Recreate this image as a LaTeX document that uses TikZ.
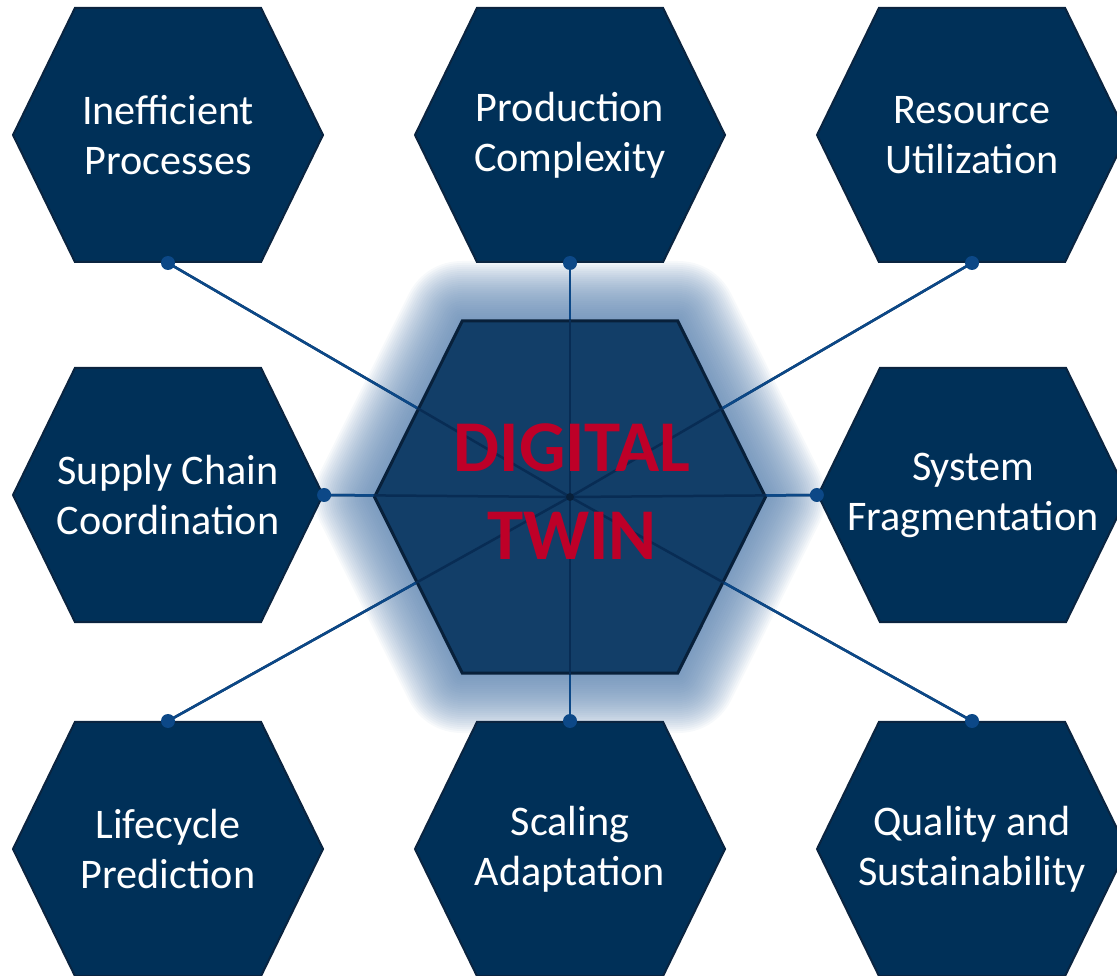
\documentclass[tikz,border=0pt]{standalone}
\usepackage{fontspec}
\setmainfont{Carlito}
\usetikzlibrary{shapes.symbols,positioning}

\definecolor{hexfill}{RGB}{0,48,88}
\definecolor{hexline}{RGB}{10,36,64}
\definecolor{twinfill}{RGB}{18,62,104}
\definecolor{twinline}{RGB}{8,32,58}
\definecolor{glowc}{RGB}{90,130,175}
\definecolor{linkc}{RGB}{12,72,135}
\definecolor{linkin}{RGB}{8,44,84}
\definecolor{twinred}{RGB}{190,0,40}

\tikzset{
  hextext/.style={text=white,align=center,inner sep=0pt,
    font=\fontsize{24}{28.5}\selectfont},
  hexbox/.style={signal,signal to=west and east,signal pointer angle=128,
    minimum width=62mm,minimum height=50.8mm,inner sep=0pt,
    fill=hexfill,draw=hexline,line width=0.4mm,
    label={[hextext]center:#1}},
  twinhex/.style={signal,signal to=west and east,signal pointer angle=127,
    minimum width=78.2mm,minimum height=70.4mm,inner sep=0pt},
  link/.style={draw=linkc,line width=0.5mm},
  linkinner/.style={draw=linkin,line width=0.5mm},
}

\begin{document}
\begin{tikzpicture}[x=0.2mm,y=-0.2mm]
\useasboundingbox (0,0) rectangle (1117,976);

% glow round the centre
\foreach \g in {1,...,30}
  \node[twinhex,draw=glowc,draw opacity=0.05,line width=\g*0.8mm,line join=round] at (570,497) {};
\node[twinhex,fill=twinfill,draw=twinline,line width=0.6mm] (twin) at (570,497) {};

\node[hexbox={Inefficient\\Processes}] (ineff) at (168,135) {};
\node[hexbox={Production\\Complexity}] (prod) at (570,135) {};
\node[hexbox={Resource\\Utilization}] (res) at (972,135) {};
\node[hexbox={Supply Chain\\Coordination}] (supply) at (168,495) {};
\node[hexbox={System\\Fragmentation}] (sysfrag) at (973,495) {};
\node[hexbox={Lifecycle\\Prediction}] (life) at (168,849) {};
\node[hexbox={Scaling\\Adaptation}] (scal) at (570,849) {};
\node[hexbox={Quality and\\Sustainability}] (qual) at (972,849) {};

% spokes
\foreach \t/\a in {ineff/south,prod/south,res/south,supply/east,sysfrag/west,life/north,scal/north,qual/north}
  \draw[linkinner] (twin.center) -- (\t.\a);
\foreach \t/\a in {ineff/south,prod/south,res/south,supply/east,sysfrag/west,life/north,scal/north,qual/north} {
  \draw[link] (twin) -- (\t.\a);
  \fill[linkc] (\t.\a) circle (7);
}

\node[text=twinred,align=center,font=\fontsize{41.5}{50}\selectfont\bfseries] (twinlabel) at (572,492) {DIGITAL\\TWIN};
\fill[twinline] (twin.center) circle (4);
\end{tikzpicture}
\end{document}
